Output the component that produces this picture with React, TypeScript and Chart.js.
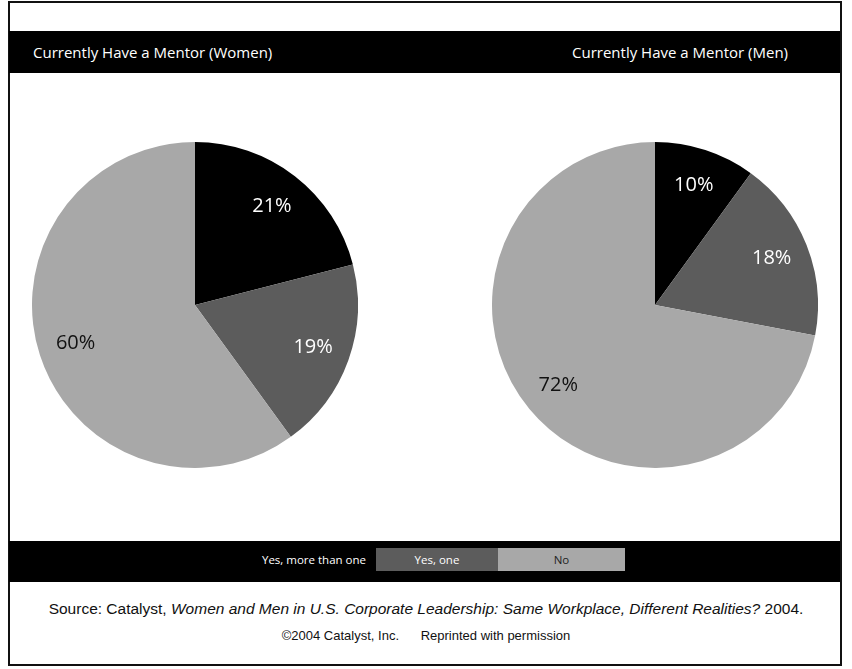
import React, { useEffect, useRef } from "react";
import { Chart, registerables } from "chart.js";

Chart.register(...registerables);

const categories = ["Yes, more than one", "Yes, one", "No"];
const womenValues = [21, 19, 60];
const menValues = [10, 18, 72];
const chartTitles = ["Currently Have a Mentor (Women)", "Currently Have a Mentor (Men)"];
const sliceColors = ["#000000", "#5c5c5c", "#a8a8a8"];
const labelColors = ["#ffffff", "#ffffff", "#111111"];
const legendTextColors = ["#ffffff", "#ffffff", "#222222"];
const sourceLine1 = ["Source: Catalyst, ", "Women and Men in U.S. Corporate Leadership: Same Workplace, Different Realities?", " 2004."];
const sourceLine2 = "\u00A92004 Catalyst, Inc.      Reprinted with permission";

const labelPlugin = {
  id: "pctLabels",
  afterDatasetsDraw(chart: any) {
    const ctx = chart.ctx;
    const meta = chart.getDatasetMeta(0);
    const data = chart.data.datasets[0].data as number[];
    ctx.save();
    ctx.font = "20px 'Open Sans', sans-serif";
    ctx.textAlign = "center";
    ctx.textBaseline = "middle";
    meta.data.forEach((arc: any, i: number) => {
      const p = arc.getProps(["x", "y", "startAngle", "endAngle", "outerRadius"], true);
      const mid = (p.startAngle + p.endAngle) / 2;
      const r = p.outerRadius * 0.77;
      ctx.fillStyle = labelColors[i];
      ctx.fillText(data[i] + "%", p.x + Math.cos(mid) * r, p.y + Math.sin(mid) * r);
    });
    ctx.restore();
  },
};

function PieChart({ values, left, top, size }: { values: number[]; left: number; top: number; size: number }) {
  const ref = useRef<HTMLCanvasElement | null>(null);
  useEffect(() => {
    if (!ref.current) return;
    const chart = new Chart(ref.current, {
      type: "pie",
      data: {
        labels: categories,
        datasets: [
          {
            data: values,
            backgroundColor: sliceColors,
            borderWidth: 0,
            hoverOffset: 0,
          },
        ],
      },
      options: {
        animation: false,
        responsive: false,
        layout: { padding: 0 },
        plugins: { legend: { display: false }, tooltip: { enabled: false } },
      },
      plugins: [labelPlugin],
    } as any);
    return () => chart.destroy();
  }, [values]);
  return (
    <canvas
      ref={ref}
      width={size}
      height={size}
      style={{ position: "absolute", left, top, width: size, height: size }}
    />
  );
}

export default function App() {
  const legendBoxes = [
    { left: 252, width: 124 },
    { left: 376, width: 122 },
    { left: 498, width: 127 },
  ];
  return (
    <div
      style={{
        position: "fixed",
        left: 0,
        top: 0,
        width: 852,
        height: 669,
        background: "#ffffff",
        overflow: "hidden",
        fontFamily: "'Open Sans', sans-serif",
      }}
    >
      <div
        style={{
          position: "absolute",
          left: 8,
          top: 1,
          width: 834,
          height: 665,
          border: "2px solid #111",
          boxSizing: "border-box",
        }}
      />
      <div style={{ position: "absolute", left: 9, top: 31, width: 831, height: 42, background: "#000" }} />
      <div
        style={{
          position: "absolute",
          left: 33,
          top: 31,
          height: 42,
          lineHeight: "42px",
          color: "#fff",
          fontSize: 15,
          whiteSpace: "nowrap",
        }}
      >
        {chartTitles[0]}
      </div>
      <div
        style={{
          position: "absolute",
          right: 64,
          top: 31,
          height: 42,
          lineHeight: "42px",
          color: "#fff",
          fontSize: 15,
          whiteSpace: "nowrap",
        }}
      >
        {chartTitles[1]}
      </div>

      <PieChart values={womenValues} left={32} top={142} size={326} />
      <PieChart values={menValues} left={492} top={142} size={326} />

      <div style={{ position: "absolute", left: 9, top: 541, width: 831, height: 41, background: "#000" }} />
      {categories.map((c, i) => (
        <div
          key={c}
          style={{
            position: "absolute",
            left: legendBoxes[i].left,
            top: 548,
            width: legendBoxes[i].width,
            height: 23,
            lineHeight: "23px",
            background: sliceColors[i],
            color: legendTextColors[i],
            fontSize: 11.5,
            textAlign: "center",
            whiteSpace: "nowrap",
          }}
        >
          {c}
        </div>
      ))}

      <div
        style={{
          position: "absolute",
          left: 0,
          width: 852,
          top: 600,
          textAlign: "center",
          fontFamily: "'Liberation Sans', Arial, sans-serif",
          fontSize: 15.5,
          color: "#111",
          whiteSpace: "nowrap",
        }}
      >
        {sourceLine1[0]}
        <i>{sourceLine1[1]}</i>
        {sourceLine1[2]}
      </div>
      <div
        style={{
          position: "absolute",
          left: 0,
          width: 852,
          top: 628,
          textAlign: "center",
          fontFamily: "'Liberation Sans', Arial, sans-serif",
          fontSize: 13,
          color: "#111",
          whiteSpace: "pre",
        }}
      >
        {sourceLine2}
      </div>
    </div>
  );
}
